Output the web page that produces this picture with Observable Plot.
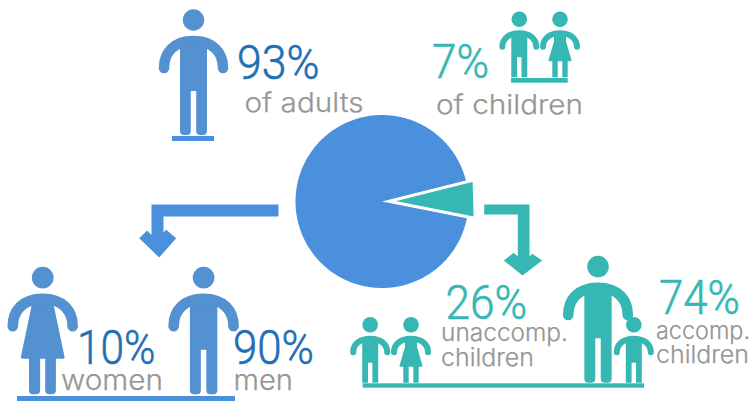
<!DOCTYPE html>
<html>
<head>
<meta charset="utf-8">
<style>
  html, body { margin: 0; padding: 0; background: #fff; }
  svg { display: block; }
</style>
<script src="https://cdn.jsdelivr.net/npm/d3@7"></script>
<script src="https://cdn.jsdelivr.net/npm/@observablehq/plot@0.6"></script>
</head>
<body>
<div id="chart"></div>
<script>
// Share of each population group, in percent
const groupNames = ["adults", "children"];
const groupShares = [93, 7];
const adultNames = ["women", "men"];
const adultShares = [10, 90];
const childNames = ["unaccomp.", "accomp."];
const childShares = [26, 74];
const childWord = "children";

const W = 754, H = 403;
const blue = "#4a90dc", iconBlue = "#5391d0", darkBlue = "#1f6fb5";
const teal = "#36b7b4", grey = "#969696";

// Pie geometry: the pie turns so the children's slice faces right
const pieCentre = [381.5, 201], pieRadius = 86.5;
const slices = d3.pie().sort(null).startAngle(101.1 * Math.PI / 180).endAngle((101.1 + 360) * Math.PI / 180)(groupShares);

const polar = (c, r, a) => ({x: c[0] + r * Math.sin(a), y: c[1] - r * Math.cos(a)});
const adultSlice = [polar(pieCentre, 0, 0),
  ...d3.range(241).map(i => polar(pieCentre, pieRadius, slices[0].startAngle + (slices[0].endAngle - slices[0].startAngle) * i / 240))];
const mid = (slices[1].startAngle + slices[1].endAngle) / 2;
const wedgeApex = polar(pieCentre, 8, mid);
const childWedge = [
  {x: wedgeApex.x, y: wedgeApex.y},
  polar([wedgeApex.x, wedgeApex.y], 86.5, slices[1].startAngle),
  polar([wedgeApex.x, wedgeApex.y], 86.5, slices[1].endAngle)
];

// Elbow arrows leading from the pie to each breakdown
const toPoints = a => a.map(([x, y]) => ({x, y}));
const blueArrow = toPoints([[278,204],[151,204],[151,234.5],[146.7,230],[138.7,237.7],[158.7,257],[175.7,237.7],[165.7,229.3],[163,232],[163,216],[278,216]]);
const tealArrow = toPoints([[483.7,204],[529,204],[529,256],[531.7,253.3],[541.7,260],[522,275],[503.3,260],[513.3,252.3],[517.3,256],[517.3,214],[483.7,214]]);

// Ground bars under the figures
const grounds = [
  {x1: 172, x2: 214, y1: 136, y2: 141, fill: blue},
  {x1: 511, x2: 567.7, y1: 78, y2: 82.7, fill: teal},
  {x1: 17, x2: 235, y1: 396, y2: 401, fill: blue},
  {x1: 362.7, x2: 644, y1: 383.3, y2: 387.7, fill: teal}
];

// Pictograms in local units: x from the figure's centre, y up from the feet
const adultArms = "M-29.5 -67C-29.5 -82 -20 -94 0 -94C20 -94 29.5 -82 29.5 -67";
const childArms = "M-17 -30.5C-17 -38 -11 -44 0 -44C11 -44 17 -38 17 -30.5";
const shapes = {
  man: {head: [0, -115, 10.7], arms: adultArms, armWidth: 10.5,
    body: "M-13.5 -94H13.5V-4A4 4 0 0 1 9.5 0H6.7A4 4 0 0 1 2.7 -4V-44H-2.7V-4A4 4 0 0 1 -6.7 0H-9.5A4 4 0 0 1 -13.5 -4Z"},
  woman: {head: [0, -115, 10.7], arms: adultArms, armWidth: 10.5,
    body: "M-11 -94H11V-87L21.5 -37Q22 -35 20 -35H13V-4A4 4 0 0 1 9 0H6.5A4 4 0 0 1 2.5 -4V-35H-2.5V-4A4 4 0 0 1 -6.5 0H-9.5A4 4 0 0 1 -13.5 -4V-35H-20Q-22 -35 -21.5 -37L-11 -87Z"},
  boy: {head: [0, -58, 7.8], arms: childArms, armWidth: 6,
    body: "M-8 -44H8V0H2.2V-20H-2.2V0H-8Z"},
  girl: {head: [0, -58, 7.8], arms: childArms, armWidth: 6,
    body: "M-6 -44H6V-36L11.5 -17Q11.5 -16 10.5 -16H7.7V0H2.3V-16H-2.3V0H-7.7V-16H-10.5Q-11.5 -16 -11.5 -17L-6 -36Z"}
};
const figures = [
  {shape: "man", x: 193.5, foot: 135, scale: 1, color: iconBlue},
  {shape: "boy", x: 519.3, foot: 77.3, scale: 1, color: teal},
  {shape: "girl", x: 560, foot: 77.3, scale: 1, color: teal},
  {shape: "woman", x: 42.7, foot: 394.3, scale: 1.015, color: iconBlue},
  {shape: "man", x: 203.6, foot: 394.3, scale: 1.015, color: iconBlue},
  {shape: "boy", x: 370.2, foot: 382.7, scale: 1, color: teal},
  {shape: "girl", x: 411, foot: 382.7, scale: 1, color: teal},
  {shape: "man", x: 598, foot: 382.7, scale: 1.01, color: teal},
  {shape: "boy", x: 633.8, foot: 382.7, scale: 1, color: teal}
];

function figureMark(index, scales) {
  const g = d3.create("svg:g").attr("aria-label", "figures");
  for (const f of figures) {
    const s = shapes[f.shape];
    const item = g.append("g")
      .attr("transform", `translate(${scales.x(f.x)},${scales.y(f.foot)}) scale(${f.scale})`);
    item.append("circle").attr("cx", s.head[0]).attr("cy", s.head[1]).attr("r", s.head[2]).attr("fill", f.color);
    item.append("path").attr("d", s.body).attr("fill", f.color);
    item.append("path").attr("d", s.arms).attr("fill", "none").attr("stroke", f.color)
      .attr("stroke-width", s.armWidth).attr("stroke-linecap", "round");
  }
  return g.node();
}

// Text placement; the strings come from the arrays above
const numberFont = "Roboto", wordFont = "Inter";
const numbers = [
  {text: `${groupShares[0]}%`, x: 236.5, y: 78, size: 49, width: 82.5, fill: darkBlue},
  {text: `${groupShares[1]}%`, x: 431.5, y: 77, size: 48, width: 57, fill: teal},
  {text: `${adultShares[0]}%`, x: 76.5, y: 363.5, size: 48, width: 78.5, fill: darkBlue},
  {text: `${adultShares[1]}%`, x: 232.5, y: 363.5, size: 48, width: 81, fill: darkBlue},
  {text: `${childShares[0]}%`, x: 445, y: 318, size: 48, width: 81.5, fill: teal},
  {text: `${childShares[1]}%`, x: 658.5, y: 313.5, size: 48, width: 81, fill: teal}
];
const words = [
  {text: `of ${groupNames[0]}`, x: 244, y: 111.5, size: 27, width: 119},
  {text: `of ${groupNames[1]}`, x: 435.5, y: 113, size: 27, width: 147},
  {text: adultNames[0], x: 60.5, y: 389, size: 28, width: 102},
  {text: adultNames[1], x: 233, y: 389, size: 28, width: 59.5},
  {text: childNames[0], x: 440.5, y: 340.5, size: 24, width: 127},
  {text: childWord, x: 440.5, y: 365, size: 24, width: 93},
  {text: childNames[1], x: 655.5, y: 338, size: 24, width: 94},
  {text: childWord, x: 655.5, y: 362.5, size: 24, width: 93}
];
const textMark = (rows, font, weight, thicken) => Plot.text(rows, {
  x: "x", y: "y", text: "text", fill: rows[0].fill ? "fill" : grey,
  stroke: rows[0].fill ? "fill" : grey, strokeWidth: thicken,
  fontSize: d => d.size, fontFamily: font, fontWeight: weight,
  textAnchor: "start", lineAnchor: "bottom"
});

const chart = Plot.plot({
  width: W, height: H, margin: 0,
  x: {domain: [0, W], range: [0, W], axis: null},
  y: {domain: [0, H], range: [0, H], axis: null},
  style: {background: "#fff"},
  marks: [
    Plot.line(adultSlice, {x: "x", y: "y", fill: blue, stroke: "none"}),
    Plot.line([...childWedge, childWedge[0]], {x: "x", y: "y", fill: teal, stroke: "#fff", strokeWidth: 2.6, strokeLinejoin: "miter"}),
    Plot.line(blueArrow, {x: "x", y: "y", fill: blue, stroke: "none"}),
    Plot.line(tealArrow, {x: "x", y: "y", fill: teal, stroke: "none"}),
    Plot.rect(grounds, {x1: "x1", x2: "x2", y1: "y1", y2: "y2", fill: "fill"}),
    figureMark,
    textMark(numbers, numberFont, 300, 0.6),
    textMark(words, wordFont, 300, 0.25)
  ]
});

// Each label is fitted to its measured width
const sized = [...numbers, ...words];
d3.select(chart).selectAll('g[aria-label="text"] text').each(function (_, i) {
  d3.select(this).attr("textLength", sized[i].width).attr("lengthAdjust", "spacingAndGlyphs");
});
document.getElementById("chart").append(chart);
</script>
</body>
</html>
